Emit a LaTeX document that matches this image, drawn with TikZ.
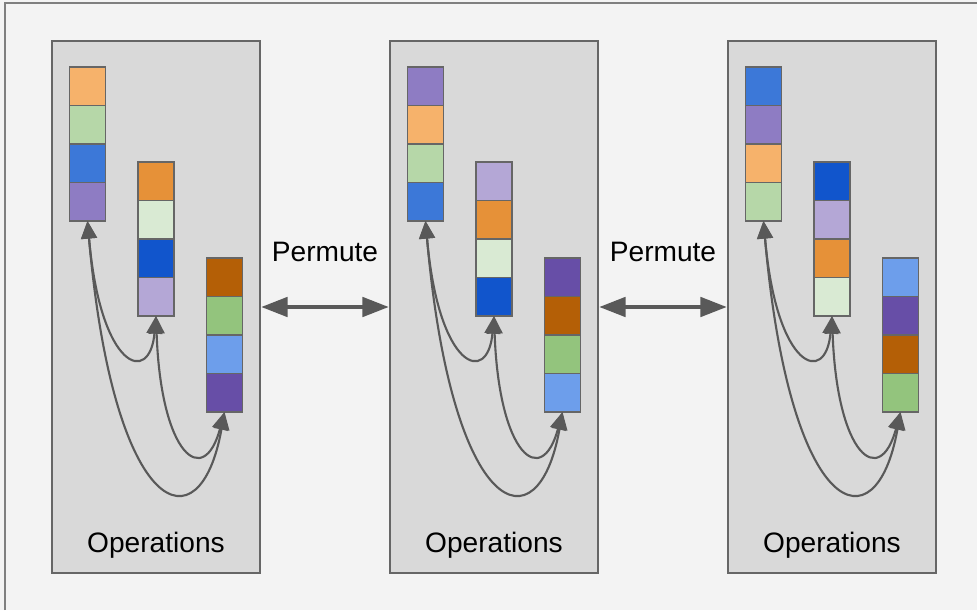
\documentclass[tikz,border=0pt]{standalone}
\usepackage{fontspec}
\setmainfont{Liberation Sans}
\usepackage{tikz}
\definecolor{bggray}{HTML}{F3F3F3}
\definecolor{panelgray}{HTML}{D9D9D9}
\definecolor{edge}{HTML}{666666}
\definecolor{arrowgray}{HTML}{595959}
\definecolor{framegray}{HTML}{7F7F7F}
\definecolor{lorange}{HTML}{F6B26B}
\definecolor{lgreen}{HTML}{B6D7A8}
\definecolor{blue1}{HTML}{3C78D8}
\definecolor{purple1}{HTML}{8E7CC3}
\definecolor{orange1}{HTML}{E69138}
\definecolor{vlgreen}{HTML}{D9EAD3}
\definecolor{dblue}{HTML}{1155CC}
\definecolor{lpurple}{HTML}{B4A7D6}
\definecolor{brown1}{HTML}{B45F06}
\definecolor{green1}{HTML}{93C47D}
\definecolor{lblue}{HTML}{6D9EEB}
\definecolor{dpurple}{HTML}{674EA7}
\tikzstyle{panel} = [rectangle, draw = edge, line width=1.4pt, fill=panelgray, minimum width = 4.16cm, minimum height=10.64cm]
\tikzstyle{cell} = [rectangle, draw = edge, line width=0.8pt, minimum width = 0.72cm, minimum height=0.77cm, inner sep=0pt, outer sep=0pt]
\tikzstyle{txt} = [font=\fontsize{16}{19}\selectfont]
\tikzstyle{swap} = [<->,>={Triangle[length=10pt,width=9pt]}, draw=arrowgray, line width=1.2pt]
\tikzstyle{permarrow} = [<->,>={Triangle[length=15pt,width=11pt]}, draw=arrowgray, line width=2.2pt]
\usetikzlibrary{arrows, arrows.meta, positioning}

\begin{document}
\begin{tikzpicture}[node distance = 0pt]
      \fill[bggray] (0,0) rectangle (19.54,12.2);
      \useasboundingbox (0,0) rectangle (19.54,12.2);
      \draw[framegray, line width=1.2pt] (0.1,0) -- (0.1,12.14) -- (19.54,12.14);

      \node[panel] (box1) at (3.12,6.06) {};
      \node[panel] (box2) at (9.88,6.06) {};
      \node[panel] (box3) at (16.64,6.06) {};

      \node[txt] (ops1) at (3.12,1.3) {Operations};
      \node[txt] (ops2) at (9.88,1.3) {Operations};
      \node[txt] (ops3) at (16.64,1.3) {Operations};

      % first block
      \node[cell, fill=lorange] (p1a1) at (1.75,10.475) {};
      \node[cell, fill=lgreen, below=of p1a1] (p1a2) {};
      \node[cell, fill=blue1, below=of p1a2] (p1a3) {};
      \node[cell, fill=purple1, below=of p1a3] (p1a4) {};
      \node[cell, fill=orange1] (p1b1) at (3.12,8.575) {};
      \node[cell, fill=vlgreen, below=of p1b1] (p1b2) {};
      \node[cell, fill=dblue, below=of p1b2] (p1b3) {};
      \node[cell, fill=lpurple, below=of p1b3] (p1b4) {};
      \node[cell, fill=brown1] (p1c1) at (4.49,6.655) {};
      \node[cell, fill=green1, below=of p1c1] (p1c2) {};
      \node[cell, fill=lblue, below=of p1c2] (p1c3) {};
      \node[cell, fill=dpurple, below=of p1c3] (p1c4) {};

      % second block
      \node[cell, fill=purple1] (p2a1) at (8.51,10.475) {};
      \node[cell, fill=lorange, below=of p2a1] (p2a2) {};
      \node[cell, fill=lgreen, below=of p2a2] (p2a3) {};
      \node[cell, fill=blue1, below=of p2a3] (p2a4) {};
      \node[cell, fill=lpurple] (p2b1) at (9.88,8.575) {};
      \node[cell, fill=orange1, below=of p2b1] (p2b2) {};
      \node[cell, fill=vlgreen, below=of p2b2] (p2b3) {};
      \node[cell, fill=dblue, below=of p2b3] (p2b4) {};
      \node[cell, fill=dpurple] (p2c1) at (11.25,6.655) {};
      \node[cell, fill=brown1, below=of p2c1] (p2c2) {};
      \node[cell, fill=green1, below=of p2c2] (p2c3) {};
      \node[cell, fill=lblue, below=of p2c3] (p2c4) {};

      % third block
      \node[cell, fill=blue1] (p3a1) at (15.27,10.475) {};
      \node[cell, fill=purple1, below=of p3a1] (p3a2) {};
      \node[cell, fill=lorange, below=of p3a2] (p3a3) {};
      \node[cell, fill=lgreen, below=of p3a3] (p3a4) {};
      \node[cell, fill=dblue] (p3b1) at (16.64,8.575) {};
      \node[cell, fill=lpurple, below=of p3b1] (p3b2) {};
      \node[cell, fill=orange1, below=of p3b2] (p3b3) {};
      \node[cell, fill=vlgreen, below=of p3b3] (p3b4) {};
      \node[cell, fill=lblue] (p3c1) at (18.01,6.655) {};
      \node[cell, fill=dpurple, below=of p3c1] (p3c2) {};
      \node[cell, fill=brown1, below=of p3c2] (p3c3) {};
      \node[cell, fill=green1, below=of p3c3] (p3c4) {};

      \node[txt] (perm1) at (6.5,7.16) {Permute};
      \node[txt] (perm2) at (13.26,7.16) {Permute};
      \draw[permarrow] (box1) -- (box2);
      \draw[permarrow] (box2) -- (box3);

      \draw[swap] (p1a4.south) to[out=-85,in=-95,out distance=3cm,in distance=1.4cm] (p1b4.south);
      \draw[swap] (p1a4.south) to[out=-85,in=-100,out distance=6cm,in distance=2.8cm] (p1c4.south);
      \draw[swap] (p1b4.south) to[out=-88,in=-105,out distance=2.8cm,in distance=1.6cm] (p1c4.south);
      \draw[swap] (p2a4.south) to[out=-85,in=-95,out distance=3cm,in distance=1.4cm] (p2b4.south);
      \draw[swap] (p2a4.south) to[out=-85,in=-100,out distance=6cm,in distance=2.8cm] (p2c4.south);
      \draw[swap] (p2b4.south) to[out=-88,in=-105,out distance=2.8cm,in distance=1.6cm] (p2c4.south);
      \draw[swap] (p3a4.south) to[out=-85,in=-95,out distance=3cm,in distance=1.4cm] (p3b4.south);
      \draw[swap] (p3a4.south) to[out=-85,in=-100,out distance=6cm,in distance=2.8cm] (p3c4.south);
      \draw[swap] (p3b4.south) to[out=-88,in=-105,out distance=2.8cm,in distance=1.6cm] (p3c4.south);
    \end{tikzpicture}
\end{document}
